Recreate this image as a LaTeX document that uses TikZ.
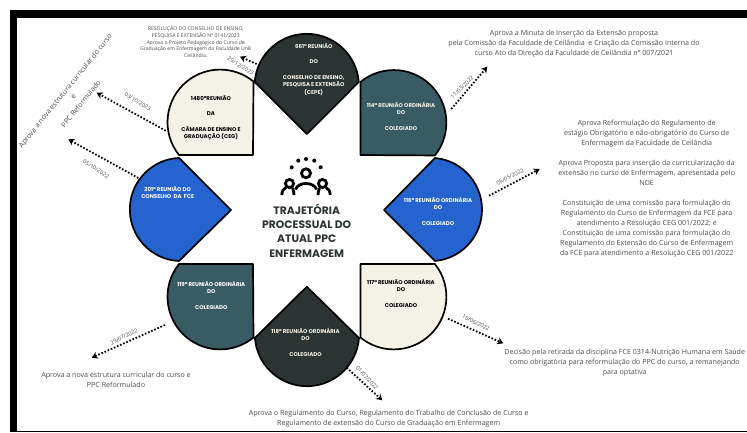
\documentclass[tikz,border=0pt]{standalone}
\usepackage{fontspec}
\setmainfont{Open Sans}
\newfontfamily\petalfont{Poppins}
\usetikzlibrary{arrows.meta}
\definecolor{darkpetal}{HTML}{2C3333}
\definecolor{tealpetal}{HTML}{395B64}
\definecolor{creampetal}{HTML}{F4F1E6}
\definecolor{bluepetal}{HTML}{2563CF}
\definecolor{bodytext}{HTML}{4A4A4A}
\tikzset{
  petal/.style={draw=black,line width=1.7pt,line join=round},
  meeting/.style={align=center,inner sep=0pt,font=\petalfont\bfseries\fontsize{5.5}{7.7}\selectfont},
  flow/.style={line width=1.8pt,dash pattern=on 1.6pt off 1.8pt,-{Stealth[length=6pt,width=7pt]}},
  datelab/.style={inner sep=0pt,text=bodytext,font=\fontsize{5.6}{6}\selectfont},
  note/.style={align=center,inner sep=0pt,text=bodytext,font=\fontsize{7.1}{10}\selectfont},
  icon/.style={line width=2.8pt},
}
\begin{document}
\begin{tikzpicture}[x=1pt,y=-1pt]
      \useasboundingbox (0,0) rectangle (747,432);
      % frame
      \fill[black] (10,10) rectangle (747,18);
      \fill[black] (10,10) rectangle (17,432);
      \fill[black] (10,430.5) rectangle (747,432);

      % petals
      \draw[petal,fill=darkpetal] (254.7,82) arc[start angle=184.4,end angle=355.6,radius=52.2] -- (306.8,134) -- cycle;
      \draw[petal,fill=tealpetal] (360.4,82) arc[start angle=-129.4,end angle=38.6,radius=52.6] -- (360.4,155) -- cycle;
      \draw[petal,fill=bluepetal] (435,158) arc[start angle=-84.8,end angle=84.8,radius=51.7] -- (384,210) -- cycle;
      \draw[petal,fill=creampetal] (434.9,264) arc[start angle=-38.6,end angle=129.4,radius=52.6] -- (360.4,264) -- cycle;
      \draw[petal,fill=darkpetal] (359,338) arc[start angle=4.4,end angle=175.6,radius=52.2] -- (306.8,286.7) -- cycle;
      \draw[petal,fill=tealpetal] (179,264) arc[start angle=218.6,end angle=50.6,radius=52.6] -- (253,264) -- cycle;
      \draw[petal,fill=bluepetal] (179,261) arc[start angle=92.7,end angle=267.3,radius=51.6] -- (231,210) -- cycle;
      \draw[petal,fill=creampetal] (179,155) arc[start angle=141.4,end angle=309.4,radius=52.6] -- (253,155) -- cycle;

      % petal labels
      \node[meeting,text=creampetal] (m661) at (313.7,69.5) {661ª REUNIÃO\\[7.7pt]DO\\[7.7pt]CONSELHO DE ENSINO,\\PESQUISA E EXTENSÃO\\(CEPE)};
      \node[meeting,text=creampetal] (m114) at (401,116) {114ª REUNIÃO ORDINÁRIA\\DO\\[7.7pt]COLEGIADO};
      \node[meeting,text=white] (m116) at (438,211) {116ª REUNIÃO ORDINÁRIA\\DO\\[7.7pt]COLEGIADO};
      \node[meeting,text=black] (m117) at (401,293) {117ª REUNIÃO ORDINÁRIA\\DO\\[7.7pt]COLEGIADO};
      \node[meeting,text=creampetal] (m118) at (305.5,342) {118ª REUNIÃO ORDINÁRIA\\DO\\[7.7pt]COLEGIADO};
      \node[meeting,text=white] (m119) at (211.3,295) {119ª REUNIÃO ORDINÁRIA\\DO\\[7.7pt]COLEGIADO};
      \node[meeting,text=white] (m201) at (167.7,192.5) {201ª REUNIÃO DO\\CONSELHO \ DA \ FCE};
      \node[meeting,text=black] (m1480) at (211,118) {1480ªREUNIÃO\\[7.7pt]DA\\[7.7pt]CÂMARA DE ENSINO E\\GRADUAÇÃO (CEG)};

      % people icon
      \foreach \dotx/\doty in {291.7/167.3,298.3/160.7,306/159,314.3/160.7,320.7/167.3}
        \fill[black] (\dotx,\doty) circle (2);
      \draw[icon] (306,173.3) circle (4.5);
      \draw[icon] (289.5,183.5) circle (4.1);
      \draw[icon] (322.5,183.5) circle (4.1);
      \draw[icon] (295.5,189.5) .. controls (298,181.5) and (314,181.5) .. (316.5,189.5);
      \draw[icon] (281.8,195) .. controls (282,191) and (283.5,188.5) .. (286,187.5);
      \draw[icon] (292.5,188) .. controls (293.5,190) and (293.8,192) .. (294,195);
      \draw[icon] (330.2,195) .. controls (330,191) and (328.5,188.5) .. (326,187.5);
      \draw[icon] (319.5,188) .. controls (318.5,190) and (318.2,192) .. (318,195);

      % title
      \node[align=center,inner sep=0pt,text=darkpetal,font=\petalfont\bfseries\fontsize{10.8}{14.2}\selectfont] (title) at (306.7,230.5) {TRAJETÓRIA\\PROCESSUAL DO\\ATUAL PPC\\ENFERMAGEM};

      % connectors
      \coordinate (s661) at (256.7,64);   \coordinate (e661) at (240,56.7);
      \coordinate (s1480) at (165.7,130.7); \coordinate (e1480) at (96.7,92.7);
      \coordinate (s201) at (138.3,178);  \coordinate (e201) at (68.3,139.3);
      \coordinate (s114) at (451.3,109);  \coordinate (e114) at (487.3,66.7);
      \coordinate (s116) at (489,195.7);  \coordinate (e116) at (539.7,169);
      \coordinate (s117) at (448,318.7);  \coordinate (e117) at (503.3,343.3);
      \coordinate (s118) at (346.7,367.7); \coordinate (e118) at (382.3,400.3);
      \coordinate (s119) at (165,325);    \coordinate (e119) at (91.7,357.7);
      \draw[flow] (s661) -- (e661);
      \draw[flow] (s1480) -- (e1480);
      \draw[flow] (s201) -- (e201);
      \draw[flow] (s114) -- (e114);
      \draw[flow] (s116) -- (e116);
      \draw[flow] (s117) -- (e117);
      \draw[flow] (s118) -- (e118);
      \draw[flow] (s119) -- (e119);

      % dates
      \node[datelab,rotate=-32] (d661) at (240.7,66) {29/12/2023};
      \node[datelab,rotate=-32] (d1480) at (137.7,101.7) {03/10/2023};
      \node[datelab,rotate=-33] (d201) at (96,169) {05/10/2022};
      \node[datelab,rotate=45] (d114) at (462.3,87.3) {11/03/2022};
      \node[datelab,rotate=26] (d116) at (510,176.7) {06/05/2022};
      \node[datelab,rotate=-27] (d117) at (476,322.7) {10/06/2022};
      \node[datelab,rotate=-47] (d118) at (367,378) {01/07/2022};
      \node[datelab,rotate=27] (d119) at (124,336.7) {29/07/2022};

      % notes
      \node[note,font=\fontsize{5.1}{6.9}\selectfont] (n661) at (195.7,41.8) {RESOLUÇÃO DO CONSELHO DE ENSINO,\\PESQUISA E EXTENSÃO Nº 0141/2023\\Aprova o Projeto Pedagógico do Curso de\\Graduação em Enfermagem da Faculdade UnB\\Ceilândia.};
      \node[note] (n114) at (574,43.3) {Aprova a Minuta de Inserção da Extensão proposta\\pela Comissão da Faculdade de Ceilândia \ e Criação da Comissão Interna do\\curso Ato da Direção da Faculdade de Ceilândia nº 007/2021};
      \node[note] (n116) at (646.7,188.8) {Aprova Reformulação do Regulamento de\\estágio Obrigatório e não-obrigatório do Curso de\\Enfermagem da Faculdade de Ceilândia\\[10pt]Aprova Proposta para inserção da curricularização da\\extensão no curso de Enfermagem, apresentada pelo\\NDE\\[10pt]Constituição de uma comissão para formulação do\\Regulamento do Curso de Enfermagem da FCE para\\atendimento a Resolução CEG 001/2022; e\\Constituição de uma comissão para formulação do\\Regulamento do Extensão do Curso de Enfermagem\\da FCE para atendimento a Resolução CEG 001/2022};
      \node[note] (n117) at (624.7,362.7) {Decisão pela retirada da disciplina FCE 0314-Nutrição Humana em Saúde\\como obrigatória para reformulação do PPC do curso, a remanejando\\para optativa};
      \node[note] (n118) at (388.7,419) {Aprova o Regulamento do Curso, Regulamento do Trabalho de Conclusão de Curso e\\Regulamento de extensão do Curso de Graduação em Enfermagem};
      \node[note] (n119) at (116,380.3) {Aprova a nova estrutura curricular do curso e\\PPC Reformulado};
      \node[note,rotate=51] (n1480a) at (65.8,91.3) {Aprova a nova estrutura curricular do curso};
      \node[note,rotate=51] (n1480b) at (73.7,97) {e};
      \node[note,rotate=51] (n1480c) at (80.8,103.8) {PPC Reformulado};
\end{tikzpicture}
\end{document}
